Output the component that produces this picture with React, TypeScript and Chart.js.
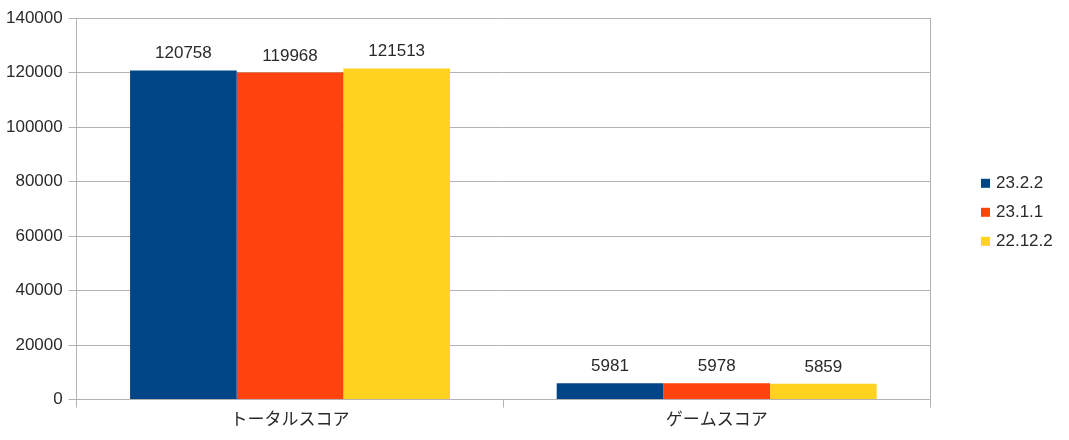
import React, { useEffect, useRef } from "react";
import { Chart, registerables } from "chart.js";

Chart.register(...registerables);

const categories = ["トータルスコア", "ゲームスコア"];
const seriesNames = ["23.2.2", "23.1.1", "22.12.2"];
const series_23_2_2 = [120758, 5981];
const series_23_1_1 = [119968, 5978];
const series_22_12_2 = [121513, 5859];
const seriesColors = ["#004586", "#ff420e", "#ffd320"];
const yMin = 0;
const yMax = 140000;
const yStep = 20000;

const FONT = "'Liberation Sans', Arial, 'Noto Sans CJK JP', sans-serif";
const TEXT = "#2a2a2a";
const GRID = "#b3b3b3";

const valueLabels = {
  id: "valueLabels",
  afterDatasetsDraw(chart: any) {
    const ctx = chart.ctx;
    ctx.save();
    ctx.font = `17px ${FONT}`;
    ctx.fillStyle = TEXT;
    ctx.textAlign = "center";
    ctx.textBaseline = "alphabetic";
    chart.data.datasets.forEach((ds: any, i: number) => {
      const meta = chart.getDatasetMeta(i);
      meta.data.forEach((el: any, j: number) => {
        ctx.fillText(String(ds.data[j]), el.x, el.y - 12);
      });
    });
    ctx.restore();
  },
};

const sideLegend = {
  id: "sideLegend",
  afterDraw(chart: any) {
    const ctx = chart.ctx;
    const area = chart.chartArea;
    const x0 = area.right + 51;
    const midY = (area.top + area.bottom) / 2 + 4;
    const step = 29;
    const n = chart.data.datasets.length;
    ctx.save();
    ctx.font = `17px ${FONT}`;
    ctx.textAlign = "left";
    ctx.textBaseline = "middle";
    chart.data.datasets.forEach((ds: any, i: number) => {
      const cy = midY + (i - (n - 1) / 2) * step;
      ctx.fillStyle = ds.backgroundColor;
      ctx.fillRect(x0, cy - 5, 9, 9);
      ctx.fillStyle = TEXT;
      ctx.fillText(ds.label, x0 + 15, cy);
    });
    ctx.restore();
  },
};

export default function App() {
  const ref = useRef<HTMLCanvasElement>(null);
  useEffect(() => {
    if (!ref.current) return;
    const values = [series_23_2_2, series_23_1_1, series_22_12_2];
    const chart = new Chart(ref.current, {
      type: "bar",
      data: {
        labels: categories,
        datasets: seriesNames.map((name, i) => ({
          label: name,
          data: values[i],
          backgroundColor: seriesColors[i],
          borderWidth: 0,
          categoryPercentage: 0.75,
          barPercentage: 1.0,
        })),
      },
      options: {
        responsive: false,
        animation: false,
        layout: { padding: { left: 0, right: 139, top: 18, bottom: 6 } },
        plugins: {
          legend: { display: false },
          tooltip: { enabled: false },
        },
        scales: {
          x: {
            grid: {
              offset: true,
              color: (c: any) => (c.index === 1 ? "rgba(0,0,0,0)" : GRID),
              tickColor: GRID,
              tickLength: 8,
              drawOnChartArea: true,
            },
            border: { color: GRID },
            ticks: {
              color: TEXT,
              font: { family: FONT, size: 17 },
              padding: 3,
            },
          },
          y: {
            min: yMin,
            max: yMax,
            ticks: {
              stepSize: yStep,
              color: TEXT,
              font: { family: FONT, size: 17 },
              padding: 6,
              callback: (v: any) => String(v),
            },
            grid: { color: GRID, tickColor: GRID, tickLength: 8 },
            border: { color: GRID },
          },
        },
      },
      plugins: [valueLabels, sideLegend],
    });
    return () => chart.destroy();
  }, []);
  return (
    <div style={{ position: "absolute", left: 0, top: 0, width: 1069, height: 440, background: "#fff" }}>
      <canvas ref={ref} width={1069} height={440} />
    </div>
  );
}
